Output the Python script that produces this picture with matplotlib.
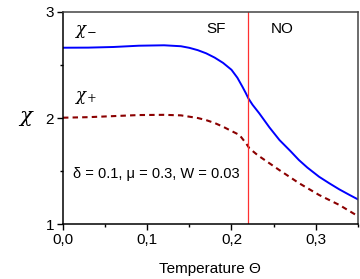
import matplotlib
matplotlib.use("Agg")
import matplotlib.pyplot as plt
from matplotlib.ticker import FixedLocator, FuncFormatter

plt.rcParams['font.family'] = ['Liberation Sans', 'DejaVu Sans']
plt.rcParams['mathtext.fontset'] = 'dejavuserif'

theta_minus = [0, 0.03, 0.06, 0.09, 0.12, 0.14, 0.15, 0.16, 0.17, 0.18, 0.19,
               0.20, 0.207, 0.213, 0.217, 0.22, 0.225, 0.233, 0.245, 0.257,
               0.27, 0.28, 0.29, 0.304, 0.316, 0.328, 0.34, 0.35]
chi_minus = [2.663, 2.664, 2.670, 2.682, 2.686, 2.677, 2.662, 2.640, 2.610,
             2.570, 2.520, 2.455, 2.380, 2.295, 2.235, 2.186, 2.125, 2.044,
             1.912, 1.792, 1.688, 1.604, 1.533, 1.446, 1.385, 1.327, 1.275, 1.233]

theta_plus = [0, 0.03, 0.06, 0.09, 0.12, 0.14, 0.16, 0.17, 0.18, 0.19, 0.1976,
              0.2095, 0.2174, 0.2213, 0.231, 0.2568, 0.2805, 0.304, 0.328, 0.35]
chi_plus = [2.003, 2.008, 2.018, 2.028, 2.030, 2.025, 2.000, 1.980, 1.953,
            1.918, 1.887, 1.840, 1.760, 1.714, 1.650, 1.509, 1.384, 1.274,
            1.180, 1.075]

theta_c = 0.22

x_ticks = [0.0, 0.1, 0.2, 0.3]
y_ticks = [1, 2, 3]

fig = plt.figure(figsize=(3.6, 2.79), dpi=100)
ax = fig.add_axes([0.175, 0.197, 0.819, 0.76])

ax.plot(theta_minus, chi_minus, color='#0000ff', lw=1.4)
ax.plot(theta_plus, chi_plus, color='#8b0000', lw=1.5, linestyle=(0, (2.6, 2.0)))
ax.axvline(theta_c, color='#ff3030', lw=0.9)

ax.set_xlim(0, 0.35)
ax.set_ylim(1, 3)

ax.xaxis.set_major_locator(FixedLocator(x_ticks))
ax.xaxis.set_minor_locator(FixedLocator([0.05, 0.15, 0.25, 0.35]))
ax.yaxis.set_major_locator(FixedLocator(y_ticks))
ax.yaxis.set_minor_locator(FixedLocator([1.5, 2.5]))
ax.xaxis.set_major_formatter(FuncFormatter(lambda v, p: f"{v:.1f}".replace('.', ',')))
ax.yaxis.set_major_formatter(FuncFormatter(lambda v, p: f"{int(round(v))}"))

ax.tick_params(which='major', direction='out', length=4.5, width=1.0, labelsize=11, pad=2)
ax.tick_params(which='minor', direction='out', length=2.5, width=1.0)
for s in ax.spines.values():
    s.set_linewidth(1.1)
ax.spines['top'].set_color('#444444')
ax.spines['right'].set_color('#444444')

ax.set_xlabel('Temperature Θ', fontsize=11, labelpad=11)
ax.set_ylabel(r'$\chi$', fontsize=15, rotation=0, labelpad=14, va='center')

ax.text(0.0142, 2.82, r'$\chi_{-}$', fontsize=12, va='center', ha='left')
ax.text(0.0142, 2.19, r'$\chi_{+}$', fontsize=12, va='center', ha='left')
ax.text(0.182, 2.84, 'SF', fontsize=11, va='center', ha='center')
ax.text(0.26, 2.84, 'NO', fontsize=11, va='center', ha='center')
ax.text(0.0118, 1.47, 'δ = 0.1, μ = 0.3, W = 0.03', fontsize=10.5, va='center', ha='left')

fig.savefig('out.png', dpi=100)
